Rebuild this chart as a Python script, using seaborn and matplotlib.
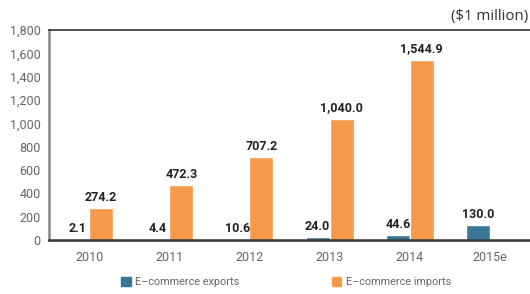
import matplotlib.pyplot as plt
import seaborn as sns
import pandas as pd
import numpy as np

# Data
years = ['2010', '2011', '2012', '2013', '2014', '2015e']
exports = [2.1, 4.4, 10.6, 24.0, 44.6, 130.0]
imports = [274.2, 472.3, 707.2, 1040.0, 1544.9, np.nan]
series = ['E\u2013commerce exports', 'E\u2013commerce imports']
colors = ['#3a7697', '#f59a4a']
y_ticks = [0, 200, 400, 600, 800, 1000, 1200, 1400, 1600, 1800]

df = pd.DataFrame({
    'Year': years * 2,
    'Value': exports + imports,
    'Series': [series[0]] * len(years) + [series[1]] * len(years),
})

sns.set_style("white")
plt.rcParams['font.family'] = ['Roboto', 'DejaVu Sans']

fig = plt.figure(figsize=(5.3, 2.94), dpi=100)
ax = fig.add_axes([0.0925, 0.184, 0.9075, 0.714])

sns.barplot(data=df, x='Year', y='Value', hue='Series', palette=colors,
            width=0.6, gap=0, saturation=1, ax=ax, legend=False)

# Value labels above bars (skip the missing 2015e import bar)
for cont in ax.containers:
    for bar in cont:
        if bar is None or np.isnan(bar.get_height()):
            continue
        h = bar.get_height()
        ax.annotate(f'{h:,.1f}', (bar.get_x() + bar.get_width() / 2, h),
                    xytext=(0, 3), textcoords='offset points',
                    ha='center', va='bottom', fontsize=9,
                    fontweight='bold', color='#222222')

ax.set_ylim(0, 1800)
ax.set_xlim(-0.5, 5.5)
ax.set_yticks(y_ticks)
ax.set_yticklabels([f'{t:,}' for t in y_ticks])
ax.set_xlabel('')
ax.set_ylabel('')
ax.tick_params(axis='both', length=0, labelsize=9, colors='#666666', pad=6)
ax.tick_params(axis='x', pad=8)

ax.spines['right'].set_visible(False)
ax.spines['top'].set_color('#333333')
ax.spines['top'].set_linewidth(1.2)
ax.spines['left'].set_color('#888888')
ax.spines['left'].set_linewidth(1.8)
ax.spines['bottom'].set_color('#333333')
ax.spines['bottom'].set_linewidth(1.8)

fig.text(0.997, 0.945, '($1 million)', ha='right', va='center',
         fontsize=10.8, color='#333333', family=['Open Sans', 'DejaVu Sans'])

handles = [plt.Rectangle((0, 0), 1, 1, color=c) for c in colors]
fig.legend(handles, series, loc='center', bbox_to_anchor=(0.54, 0.04),
           ncol=2, frameon=False, fontsize=7.8, handlelength=0.9,
           handleheight=0.9, handletextpad=0.4, columnspacing=8.5,
           labelcolor='#666666')

plt.savefig('out.png', dpi=100)
